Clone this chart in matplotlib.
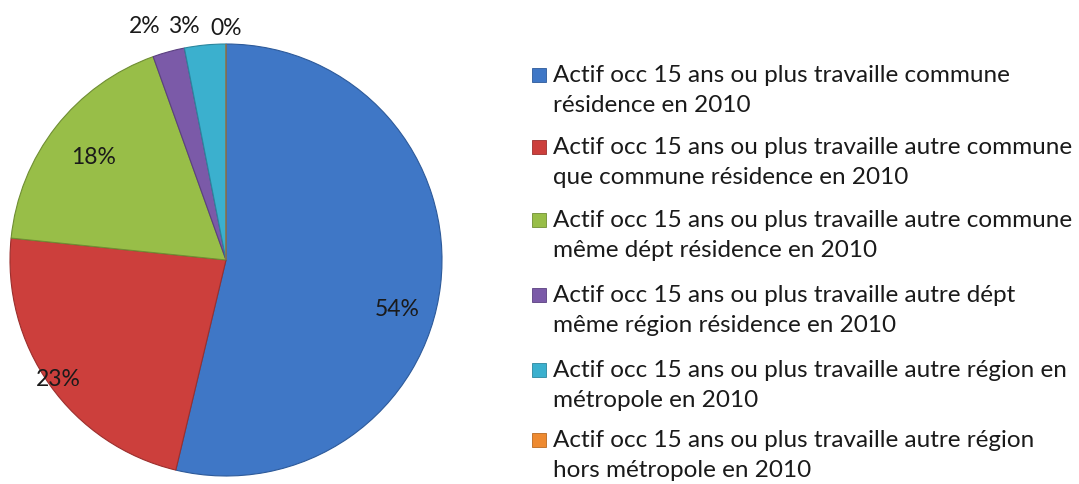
import matplotlib.pyplot as plt
import numpy as np

plt.rcParams["font.family"] = ["Lato", "DejaVu Sans"]

categories = [
    "Actif occ 15 ans ou plus travaille commune\nrésidence en 2010",
    "Actif occ 15 ans ou plus travaille autre commune\nque commune résidence en 2010",
    "Actif occ 15 ans ou plus travaille autre commune\nmême dépt résidence en 2010",
    "Actif occ 15 ans ou plus travaille autre dépt\nmême région résidence en 2010",
    "Actif occ 15 ans ou plus travaille autre région en\nmétropole en 2010",
    "Actif occ 15 ans ou plus travaille autre région\nhors métropole en 2010",
]
shares = [54.0, 23.0, 18.0, 2.4, 3.1, 0.0]
labels = ["54%", "23%", "18%", "2%", "3%", "0%"]

colors = ["#3F77C6", "#CC3F3C", "#98BE48", "#7B5AA8", "#3BB0CE", "#EE8A30"]
edge_colors = ["#2D5A9A", "#9B2F2D", "#6F8E33", "#5B4080", "#2B869E", "#B86820"]

fig = plt.figure(figsize=(10.79, 4.85), dpi=100)
ax = fig.add_axes([10 / 1079, 8 / 485, 432 / 1079, 432 / 485])

wedges, _ = ax.pie(
    shares,
    colors=colors,
    startangle=90,
    counterclock=False,
    radius=1.0,
    wedgeprops=dict(linewidth=0.8),
)
for w, ec in zip(wedges, edge_colors):
    w.set_edgecolor(ec)

# label placement: radial distance for big slices, fixed slots above the pie for small ones
label_r = [0.80, 0.95, 0.78]
top_slots = [(-0.375, 1.085), (-0.195, 1.085), (0.0, 1.075)]
for i, (w, lab) in enumerate(zip(wedges, labels)):
    if i < 3:
        ang = np.deg2rad((w.theta1 + w.theta2) / 2)
        x, y = label_r[i] * np.cos(ang), label_r[i] * np.sin(ang)
        if i == 0:
            y -= 0.13
    else:
        x, y = top_slots[i - 3]
    ax.text(x, y, lab, ha="center", va="center", fontsize=16.5, color="#1a1a1a")

ax.set_xlim(-1.0, 1.0)
ax.set_ylim(-1.0, 1.0)
ax.set_aspect("equal")
ax.axis("off")

# legend drawn in figure pixel coordinates
item_y = [76, 148, 221, 296, 371, 441]
for yc, cat, c, ec in zip(item_y, categories, colors, edge_colors):
    fig.patches.append(
        plt.Rectangle(
            (532 / 1079, 1 - (yc + 7) / 485), 14 / 1079, 14 / 485,
            transform=fig.transFigure, facecolor=c, edgecolor=ec, linewidth=0.6,
        )
    )
    fig.text(
        553 / 1079, 1 - (yc - 11) / 485, cat, ha="left", va="top",
        fontsize=17.5, linespacing=1.55, color="#1a1a1a",
    )

fig.savefig("out.png", dpi=100)
